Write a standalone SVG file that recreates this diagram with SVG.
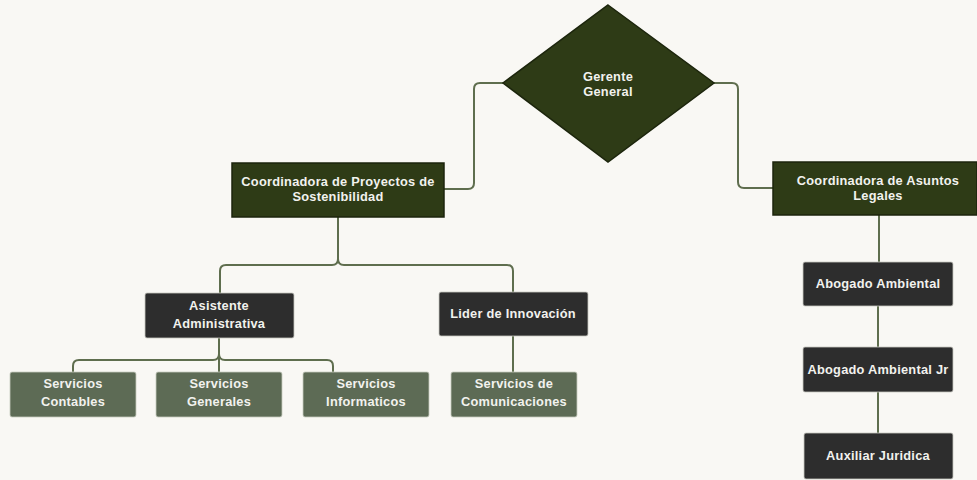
<svg xmlns="http://www.w3.org/2000/svg" width="977" height="480" viewBox="0 0 977 480">
<style>
.bg{fill:#f9f8f4}
.con{fill:none;stroke:#5f6e4e;stroke-width:2}
.top{fill:#2e3b16;stroke:#1c250c;stroke-width:1.5}
.mid{fill:#2d2d2d;stroke:#c8c8c0;stroke-width:0.8}
.low{fill:#5d6b55;stroke:#c8cbbf;stroke-width:0.8}
text{font-family:"Liberation Sans",Arial,sans-serif;font-weight:bold;font-size:12.8px;letter-spacing:0.25px;fill:#f2f2ee;text-anchor:middle}
</style>
<rect class="bg" x="0" y="0" width="977" height="480"/>
<g id="connectors">
<path class="con" d="M503,83 H480 Q474,83 474,89 V183 Q474,189 468,189 H444"/>
<path class="con" d="M714,83 H732 Q738,83 738,89 V182 Q738,188 744,188 H773"/>
<path class="con" d="M338,217 V259 Q338,265 332,265 H226 Q220,265 220,271 V293"/>
<path class="con" d="M338,259 Q338,265 344,265 H507 Q513,265 513,271 V292"/>
<path class="con" d="M219,338 V372"/>
<path class="con" d="M219,354 Q219,360 213,360 H79 Q73,360 73,366 V372"/>
<path class="con" d="M219,354 Q219,360 225,360 H327 Q333,360 333,366 V372"/>
<path class="con" d="M513,336 V372"/>
<path class="con" d="M879,215 V262"/>
<path class="con" d="M878,306 V347"/>
<path class="con" d="M878,392 V433"/>
</g>
<g id="gerente">
<polygon class="top" points="608,5 714,83 608,162 503,83"/>
<text x="608" y="81">Gerente</text>
<text x="608" y="96">General</text>
</g>
<g id="coord-proyectos">
<rect class="top" x="232" y="163" width="212" height="54"/>
<text x="338" y="186">Coordinadora de Proyectos de</text>
<text x="338" y="201">Sostenibilidad</text>
</g>
<g id="coord-legales">
<rect class="top" x="773" y="162" width="204" height="53"/>
<text x="878" y="185">Coordinadora de Asuntos</text>
<text x="878" y="200">Legales</text>
</g>
<g id="asistente">
<rect class="mid" x="145" y="293" width="149" height="45" rx="2"/>
<text x="219" y="310">Asistente</text>
<text x="219" y="328">Administrativa</text>
</g>
<g id="lider">
<rect class="mid" x="439" y="292" width="149" height="44" rx="2"/>
<text x="513" y="318">Lider de Innovación</text>
</g>
<g id="abogado">
<rect class="mid" x="803" y="262" width="150" height="44" rx="2"/>
<text x="878" y="288">Abogado Ambiental</text>
</g>
<g id="abogado-jr">
<rect class="mid" x="803" y="347" width="150" height="45" rx="2"/>
<text x="878" y="374">Abogado Ambiental Jr</text>
</g>
<g id="auxiliar">
<rect class="mid" x="804" y="433" width="149" height="46" rx="2"/>
<text x="878" y="460">Auxiliar Juridica</text>
</g>
<g id="contables">
<rect class="low" x="10" y="372" width="126" height="45" rx="2"/>
<text x="73" y="388">Servicios</text>
<text x="73" y="406">Contables</text>
</g>
<g id="generales">
<rect class="low" x="156" y="372" width="126" height="45" rx="2"/>
<text x="219" y="388">Servicios</text>
<text x="219" y="406">Generales</text>
</g>
<g id="informaticos">
<rect class="low" x="303" y="372" width="126" height="45" rx="2"/>
<text x="366" y="388">Servicios</text>
<text x="366" y="406">Informaticos</text>
</g>
<g id="comunicaciones">
<rect class="low" x="451" y="372" width="126" height="45" rx="2"/>
<text x="514" y="388">Servicios de</text>
<text x="514" y="406">Comunicaciones</text>
</g>
</svg>
